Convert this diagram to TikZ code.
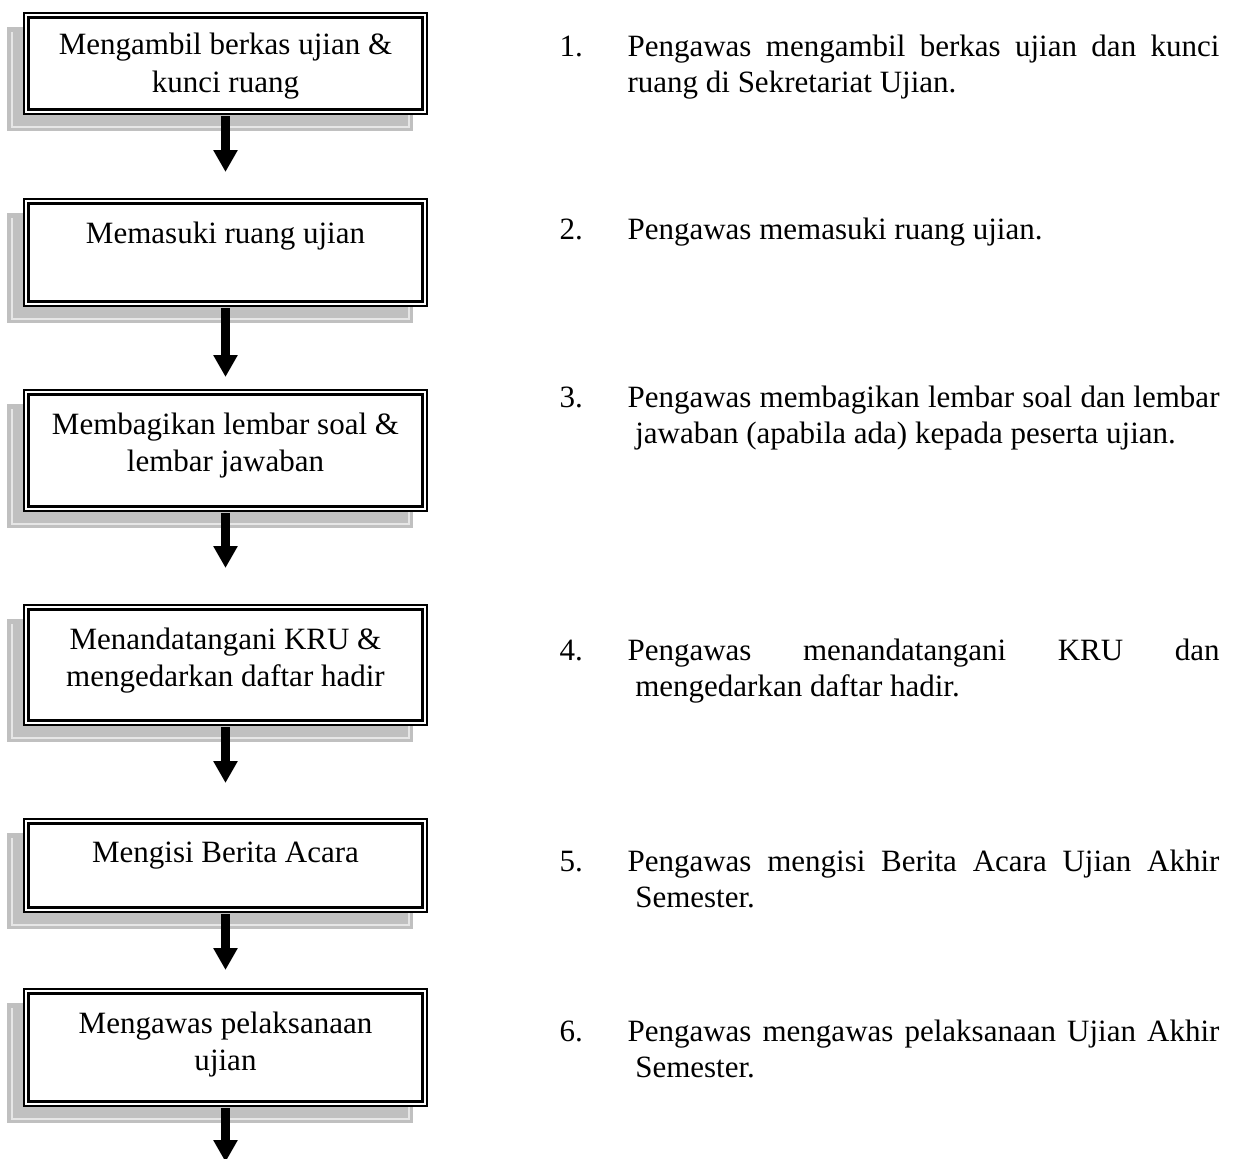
\documentclass[tikz,border=0pt]{standalone}
\usepackage{fontspec}
\setmainfont{Liberation Serif}
\usetikzlibrary{arrows.meta}

\definecolor{shadefill}{HTML}{C0C0C0}
\definecolor{shadeedge}{HTML}{E6E6E6}

% one unit = one pixel of the drawing, y grows downwards
\tikzset{
  x=0.387pt, y=-0.387pt,
  flowframe/.style={draw, double=white, line width=0.93pt, double distance=0.77pt,
    fill=white, minimum width=154.1pt, inner sep=0pt},
  flowtext/.style={anchor=base, inner sep=0pt, font=\fontsize{12}{14.4}\selectfont},
  flowarrow/.style={line width=3.8pt, shorten <=1.3pt,
    -{Triangle[width=8.9pt, length=8.5pt]}},
  shadow box/.style={fill=shadefill},
  shadow edge/.style={draw=shadeedge, line width=0.45pt},
  itemnum/.style={anchor=base west, inner sep=0pt, font=\fontsize{12}{14}\selectfont},
  itemtext/.style={anchor=base west, inner sep=0pt, font=\fontsize{12}{14}\selectfont},
}

% step box: name, top edge, bottom edge, first baseline, text
\newcommand\flowbox[5]{%
  \fill[shadow box] (7,#2+15) rectangle (413,#3+16);
  \draw[shadow edge] (12,#2+20) -- (12,#3+12) -- (409,#3+12) -- (409,#2+20);
  \node[flowframe, minimum height={(#3-#2-6.8)*0.387pt}] (#1) at (225.5,{(#2+#3)/2}) {};
  \node[flowtext] (#1t) at (225.5,#4) {\begin{tabular}[t]{@{}c@{}}#5\end{tabular}};
}

% numbered description: name, baseline, number, text
\newcommand\stepitem[4]{%
  \node[itemnum] (#1n) at (559,#2) {#3};
  \node[itemtext] (#1x) at (627,#2) {\parbox[t]{229.1pt}{#4}};
}

\begin{document}
\begin{tikzpicture}
\useasboundingbox (0,0) rectangle (1234,1159);

\flowbox{b1}{12}{115}{55}{Mengambil berkas ujian \&\\kunci ruang}
\flowbox{b2}{198}{307}{243}{Memasuki ruang ujian}
\flowbox{b3}{389}{512}{434}{Membagikan lembar soal \&\\lembar jawaban}
\flowbox{b4}{604}{726}{649}{Menandatangani KRU \&\\mengedarkan daftar hadir}
\flowbox{b5}{818}{913}{862}{Mengisi Berita Acara}
\flowbox{b6}{988}{1107}{1033}{Mengawas pelaksanaan\\ujian}

\coordinate (a1) at (225.5,172);
\coordinate (a2) at (225.5,377);
\coordinate (a3) at (225.5,568);
\coordinate (a4) at (225.5,783);
\coordinate (a5) at (225.5,970);
\coordinate (a6) at (225.5,1162);

\draw[flowarrow] (b1.south) -- (a1);
\draw[flowarrow] (b2.south) -- (a2);
\draw[flowarrow] (b3.south) -- (a3);
\draw[flowarrow] (b4.south) -- (a4);
\draw[flowarrow] (b5.south) -- (a5);
\draw[flowarrow] (b6.south) -- (a6);

\stepitem{s1}{56}{1.}{Pengawas mengambil berkas ujian dan kunci\linebreak ruang di Sekretariat Ujian.}
\stepitem{s2}{239}{2.}{Pengawas memasuki ruang ujian.}
\stepitem{s3}{407}{3.}{Pengawas membagikan lembar soal dan lembar\linebreak \hspace*{0.25em}jawaban (apabila ada) kepada peserta ujian.}
\stepitem{s4}{660}{4.}{Pengawas menandatangani KRU dan\linebreak \hspace*{0.25em}mengedarkan daftar hadir.}
\stepitem{s5}{871}{5.}{Pengawas mengisi Berita Acara Ujian Akhir\linebreak \hspace*{0.25em}Semester.}
\stepitem{s6}{1041}{6.}{Pengawas mengawas pelaksanaan Ujian Akhir\linebreak \hspace*{0.25em}Semester.}
\end{tikzpicture}
\end{document}
